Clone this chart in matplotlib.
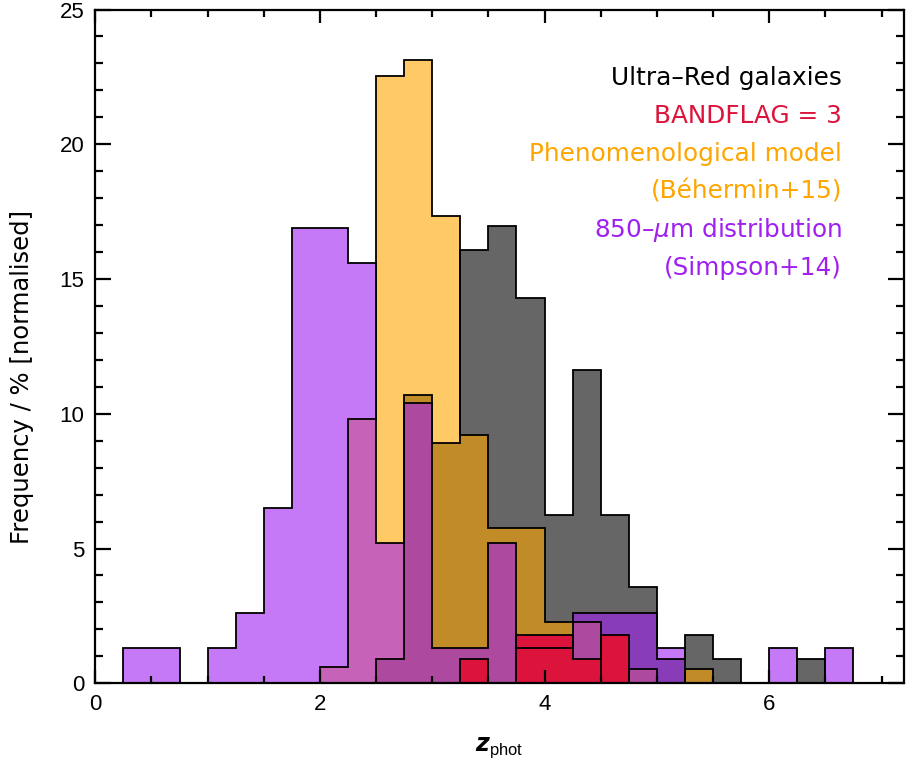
import numpy as np
import matplotlib
matplotlib.use("Agg")
import matplotlib.pyplot as plt

# ---- data (percent per 0.25-wide z_phot bin, bins from 0 to 7) ----
bin_edges = np.arange(0, 7.0001, 0.25)

ultra_red = [0, 0, 0, 0, 0, 0, 0, 0, 0, 0,
             0.89, 10.71, 8.93, 16.07, 16.96, 14.29, 6.25, 11.61, 6.25, 3.57,
             0.89, 1.79, 0.89, 0, 0, 0.89, 0, 0]
bandflag3 = [0, 0, 0, 0, 0, 0, 0, 0, 0, 0,
             0, 0, 0, 0.89, 0, 1.79, 1.79, 0.89, 1.79, 0,
             0, 0, 0, 0, 0, 0, 0, 0]
bethermin = [0, 0, 0, 0, 0, 0, 0, 0, 0.59, 9.81,
             22.54, 23.11, 17.33, 9.23, 5.76, 5.76, 2.28, 2.28, 0, 0.54,
             0, 0.54, 0, 0, 0, 0, 0, 0]
simpson = [0, 1.30, 1.30, 0, 1.30, 2.60, 6.49, 16.88, 16.88, 15.58,
           5.19, 10.39, 1.30, 1.30, 5.19, 1.30, 1.30, 2.60, 2.60, 2.60,
           1.30, 0, 0, 0, 1.30, 0, 1.30, 0]

labels = ["Ultra–Red galaxies", "BANDFLAG = 3", "Phenomenological model",
          "(Béhermin+15)", r"850–$\mu$m distribution", "(Simpson+14)"]
label_colors = ["black", "#DC143C", "#FFA500", "#FFA500", "#A020F0", "#A020F0"]

xticks = [0, 2, 4, 6]
yticks = [0, 5, 10, 15, 20, 25]

# ---- style ----
plt.rcParams["mathtext.fontset"] = "custom"
plt.rcParams["mathtext.bf"] = "DejaVu Sans:italic:bold"
plt.rcParams["mathtext.rm"] = "Liberation Sans"
plt.rcParams["mathtext.it"] = "DejaVu Sans:italic"

W, H = 908, 765
fig = plt.figure(figsize=(W / 100, H / 100), dpi=100)
ax = fig.add_axes([95.3 / W, (H - 683.3) / H, (904 - 95.3) / W, (683.3 - 9.5) / H])

fills = [
    (ultra_red, "#666666", 1.0, 0.60),
    (bethermin, "#FFA500", 0.6, 0.70),
    (simpson, "#A020F0", 0.6, 0.80),
    (bandflag3, "#DC143C", 1.0, 0.90),
]
for vals, col, a, z in fills:
    ax.stairs(vals, bin_edges, fill=True, color=col, alpha=a, lw=0, zorder=z)
for vals, col, a, z in fills:
    ax.stairs(vals, bin_edges, fill=False, color="black", lw=1.3,
              baseline=0, zorder=1.0)

ax.set_xlim(0, 7.2)
ax.set_ylim(0, 25)
ax.set_axisbelow(False)

ax.set_xticks(xticks)
ax.set_xticks(np.arange(0, 7.2, 0.5), minor=True)
ax.set_yticks(yticks)
ax.set_yticks(np.arange(0, 25.1, 1), minor=True)
ax.tick_params(axis="x", which="major", direction="in", length=9.7, width=1.6,
               top=True, bottom=True, pad=8)
ax.tick_params(axis="x", which="minor", direction="in", length=4.8, width=1.6,
               top=True, bottom=True)
ax.tick_params(axis="y", which="major", direction="in", length=11.7, width=1.6,
               left=True, right=True, pad=8)
ax.tick_params(axis="y", which="minor", direction="in", length=5.8, width=1.6,
               left=True, right=True)
for lab in ax.get_xticklabels() + ax.get_yticklabels():
    lab.set_fontfamily("Liberation Sans")
    lab.set_fontsize(16)
for s in ax.spines.values():
    s.set_linewidth(1.6)

ax.set_xlabel(r"$\mathbf{z}_{\mathrm{phot}}$", fontsize=17, labelpad=14)
ax.set_ylabel("Frequency / % [normalised]", fontfamily="DejaVu Sans",
              fontsize=17.5, labelpad=10)
ax.yaxis.set_label_coords(-0.076, 0.455)

baselines_px = [85, 123, 161, 199, 237, 275]
for txt, col, by in zip(labels, label_colors, baselines_px):
    yf = (683.3 - by) / (683.3 - 9.5)
    xf = (842 - 95.3) / (904 - 95.3)
    ax.text(xf, yf, txt, transform=ax.transAxes, ha="right", va="baseline",
            color=col, fontsize=17.8, fontfamily="DejaVu Sans", zorder=5)

fig.savefig("out.png", dpi=100)
